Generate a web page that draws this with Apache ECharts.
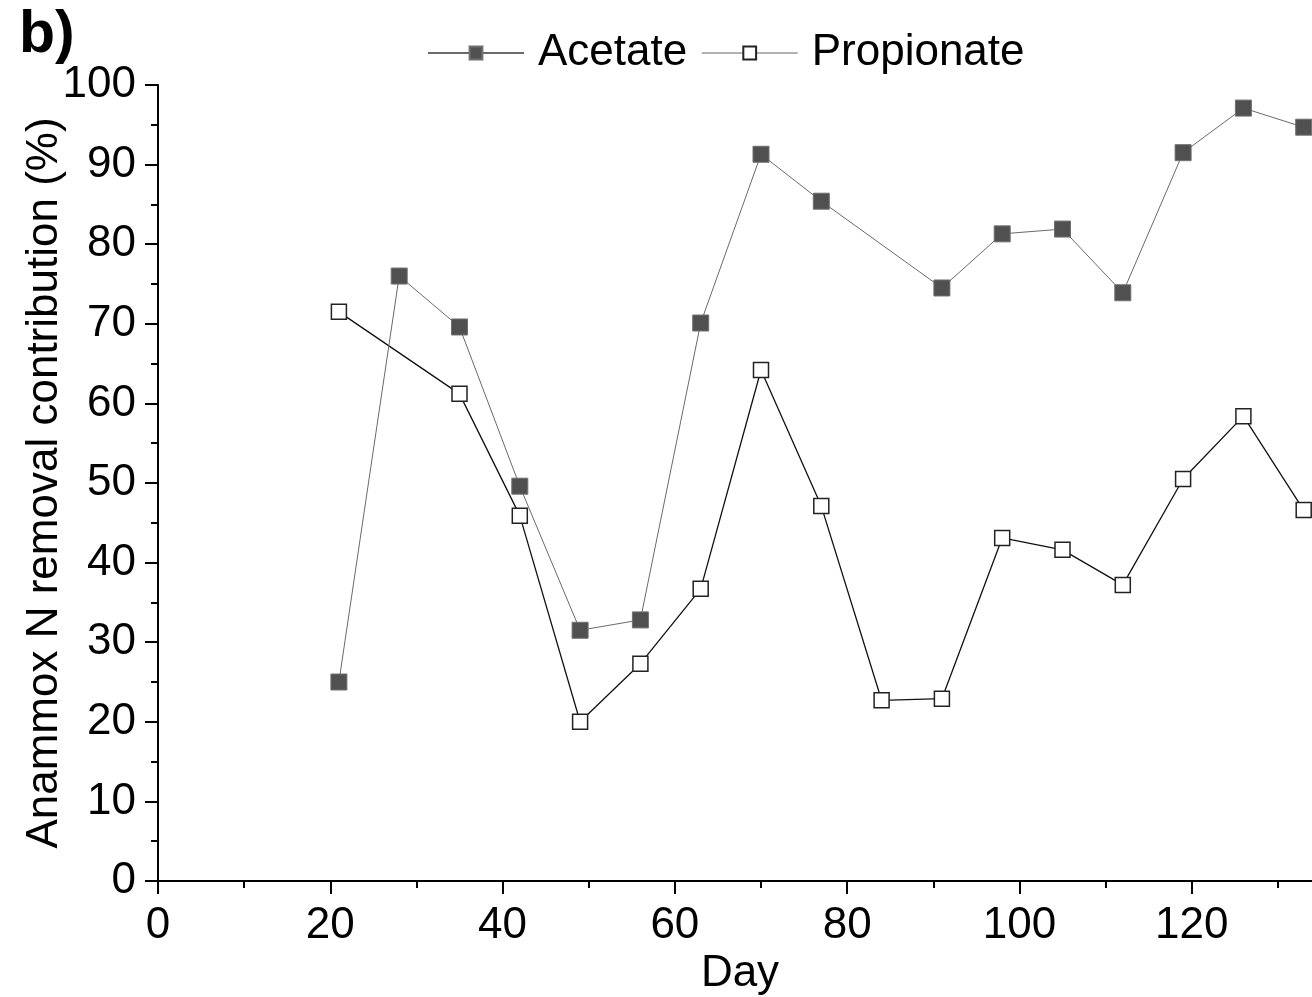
<!DOCTYPE html>
<html>
<head>
<meta charset="utf-8">
<script src="https://cdn.jsdelivr.net/npm/echarts@6/dist/echarts.min.js"></script>
<style>
  html, body { margin: 0; padding: 0; background: #fff; overflow: hidden; }
  /* the original plot runs past the right edge of the picture, so the canvas is wider than the window */
  #chart { width: 1364px; height: 997px; }
</style>
</head>
<body>
<div id="chart"></div>
<script>
  // data
  const days = [21, 28, 35, 42, 49, 56, 63, 70, 77, 84, 91, 98, 105, 112, 119, 126, 133];
  const acetate = [25.0, 76.0, 69.6, 49.6, 31.5, 32.8, 70.1, 91.3, 85.4, null, 74.5, 81.3, 81.9, 73.9, 91.5, 97.1, 94.7];
  const propionate = [71.5, null, 61.2, 45.9, 20.0, 27.3, 36.7, 64.2, 47.1, 22.7, 22.9, 43.1, 41.6, 37.2, 50.5, 58.4, 46.6];

  const FONT = "'Liberation Sans', Arial, sans-serif";
  const FS = 44;

  const pairs = (vals) => days.map((d, i) => [d, vals[i]]);

  const chart = echarts.init(document.getElementById('chart'));

  const axisCommon = {
    nameMoveOverlap: false,
    axisLine: { show: true, lineStyle: { color: '#000', width: 2 } },
    axisTick: { show: true, inside: false, length: 13, lineStyle: { color: '#000', width: 2 } },
    minorTick: { show: true, splitNumber: 2, length: 7, lineStyle: { color: '#000', width: 2 } },
    splitLine: { show: false },
    axisLabel: { color: '#000', fontSize: FS, fontFamily: FONT },
    nameTextStyle: { color: '#000', fontSize: FS, fontFamily: FONT },
  };

  const option = {
    animation: false,
    backgroundColor: '#fff',
    title: {
      text: 'b)',
      left: 14,
      top: 1,
      textStyle: { fontSize: 59, fontWeight: 'bold', fontFamily: FONT, color: '#000' },
    },
    legend: {
      left: 427,
      top: 31,
      padding: 0,
      itemWidth: 96,
      itemHeight: 16,
      itemGap: 14,
      textStyle: { fontSize: FS, fontFamily: FONT, color: '#000', padding: [0, 0, 0, 9] },
      data: [
        { name: 'Acetate' },
        { name: 'Propionate', lineStyle: { color: '#666', width: 1 } },
      ],
    },
    grid: { left: 158, top: 85, right: 0, bottom: 116, containLabel: false, outerBoundsMode: 'none' },
    xAxis: {
      ...axisCommon,
      type: 'value',
      min: 0,
      max: 140,
      interval: 20,
      name: 'Day',
      nameLocation: 'middle',
      nameGap: 71,
      nameTextStyle: { ...axisCommon.nameTextStyle, padding: [0, 42, 0, 0] },
      axisLabel: { ...axisCommon.axisLabel, margin: 23, showMaxLabel: false },
    },
    yAxis: {
      ...axisCommon,
      type: 'value',
      min: 0,
      max: 100,
      interval: 10,
      name: 'Anammox N removal contribution (%)',
      nameLocation: 'middle',
      nameGap: 91,
      axisLabel: { ...axisCommon.axisLabel, margin: 22 },
    },
    series: [
      {
        name: 'Acetate',
        type: 'line',
        data: pairs(acetate),
        connectNulls: true,
        symbol: 'rect',
        symbolSize: 16,
        lineStyle: { color: '#6a6a6a', width: 1 },
        itemStyle: { color: '#505050', borderColor: '#707070', borderWidth: 1 },
        z: 3,
      },
      {
        name: 'Propionate',
        type: 'line',
        data: pairs(propionate),
        connectNulls: true,
        symbol: 'rect',
        symbolSize: 15,
        lineStyle: { color: '#111', width: 1.3 },
        itemStyle: { color: '#fff', borderColor: '#222', borderWidth: 1.5 },
        z: 2,
      },
    ],
  };

  chart.setOption(option);
</script>
</body>
</html>
